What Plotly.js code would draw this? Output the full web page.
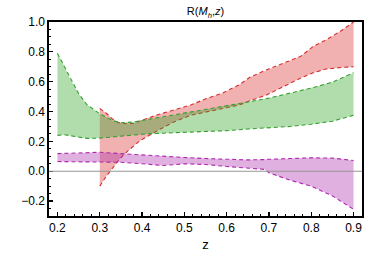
<!DOCTYPE html>
<html><head><meta charset="utf-8">
<script src="https://cdn.plot.ly/plotly-3.0.1.min.js"></script>
<style>html,body{margin:0;padding:0;background:#fff}#c{width:382px;height:255px}</style>
</head><body><div id="c"></div>
<script>
// Green band
const zGreen = [0.20,0.215,0.23,0.25,0.27,0.30,0.33,0.35,0.38,0.41,0.45,0.50,0.55,0.60,0.65,0.70,0.75,0.80,0.85,0.90];
const greenHigh = [0.79,0.71,0.62,0.52,0.445,0.385,0.34,0.325,0.33,0.345,0.363,0.385,0.41,0.437,0.464,0.49,0.522,0.557,0.597,0.66];
const greenLow  = [0.24,0.245,0.238,0.228,0.22,0.222,0.23,0.238,0.243,0.25,0.255,0.26,0.265,0.272,0.283,0.29,0.30,0.315,0.335,0.375];
// Red band
const zRed = [0.30,0.315,0.33,0.345,0.36,0.38,0.395,0.435,0.475,0.515,0.555,0.59,0.63,0.655,0.695,0.735,0.775,0.805,0.835,0.87,0.90];
const redHigh = [0.42,0.39,0.35,0.325,0.32,0.32,0.337,0.377,0.41,0.444,0.49,0.523,0.58,0.63,0.68,0.725,0.77,0.837,0.88,0.94,1.0];
const redLow  = [-0.10,-0.035,0.02,0.075,0.12,0.17,0.205,0.27,0.33,0.375,0.40,0.417,0.444,0.472,0.512,0.568,0.624,0.66,0.685,0.695,0.70];
// Purple band
const zPurple = [0.20,0.25,0.30,0.35,0.40,0.45,0.50,0.55,0.60,0.65,0.69,0.70,0.75,0.80,0.85,0.90];
const purpleHigh = [0.118,0.12,0.127,0.118,0.108,0.10,0.092,0.085,0.078,0.076,0.078,0.08,0.085,0.09,0.088,0.072];
const purpleLow  = [0.065,0.064,0.065,0.06,0.05,0.038,0.05,0.045,0.032,0.02,0.012,-0.01,-0.06,-0.10,-0.165,-0.255];

const xTicks = [0.2,0.3,0.4,0.5,0.6,0.7,0.8,0.9];
const yTicks = [-0.2,0.0,0.2,0.4,0.6,0.8,1.0];

function band(z, lo, hi, fill, line){
  const poly = {x: z.concat(z.slice().reverse()), y: lo.concat(hi.slice().reverse()),
    type:'scatter', mode:'lines', fill:'toself', fillcolor:fill, line:{width:0}, hoverinfo:'skip', showlegend:false};
  const l1 = {x:z, y:hi, type:'scatter', mode:'lines', line:{color:line, width:1.1, dash:'4px,3px'}, showlegend:false};
  const l2 = {x:z, y:lo, type:'scatter', mode:'lines', line:{color:line, width:1.1, dash:'4px,3px'}, showlegend:false};
  return [poly,l1,l2];
}
const traces = [].concat(
  band(zRed, redLow, redHigh, 'rgba(215,40,40,0.36)', 'rgb(215,45,45)'),
  band(zPurple, purpleLow, purpleHigh, 'rgba(170,40,170,0.36)', 'rgb(175,40,175)'),
  band(zGreen, greenLow, greenHigh, 'rgba(50,165,40,0.38)', 'rgb(55,160,50)')
);
const font = {family:'Liberation Sans, Arial, sans-serif', size:12, color:'#000'};
const layout = {
  width:382, height:255, margin:{l:49,r:20,t:22,b:39},
  paper_bgcolor:'#fff', plot_bgcolor:'#fff', font:font, showlegend:false,
  title:{text:'R(<i>M</i><sub><i>h</i></sub>,<i>z</i>)', x:0.5, xref:'paper', y:0.955, yanchor:'middle', font:{family:'Liberation Sans, Arial, sans-serif', size:11, color:'#000'}},
  xaxis:{range:[0.18,0.92], tickvals:xTicks, ticktext:xTicks.map(v=>v.toFixed(1)), ticks:'inside', ticklen:4, tickwidth:1.2, tickcolor:'#000',
    showline:true, linecolor:'#000', linewidth:1.6, mirror:true, showgrid:false, zeroline:false,
    minor:{dtick:0.02, tick0:0, ticks:'inside', ticklen:2, tickcolor:'#000', tickwidth:1, showgrid:false},
    title:{text:'z', font:{family:'Liberation Sans, Arial, sans-serif', size:13, color:'#000'}, standoff:6}, automargin:false},
  yaxis:{range:[-0.3,1.0], tickvals:yTicks, ticktext:yTicks.map(v=>(v<0?'\u2212':'')+Math.abs(v).toFixed(1)), ticks:'inside', ticklen:4, tickwidth:1.2, tickcolor:'#000',
    showline:true, linecolor:'#000', linewidth:1.6, mirror:true, showgrid:false, zeroline:false,
    minor:{dtick:0.05, tick0:0, ticks:'inside', ticklen:2, tickcolor:'#000', tickwidth:1, showgrid:false}, automargin:false},
  shapes:[{type:'line', xref:'paper', x0:0, x1:1, yref:'y', y0:0, y1:0, line:{color:'rgb(150,150,150)', width:1.2}, layer:'above'}]
};
Plotly.newPlot('c', traces, layout, {staticPlot:true, displayModeBar:false});
</script></body></html>
